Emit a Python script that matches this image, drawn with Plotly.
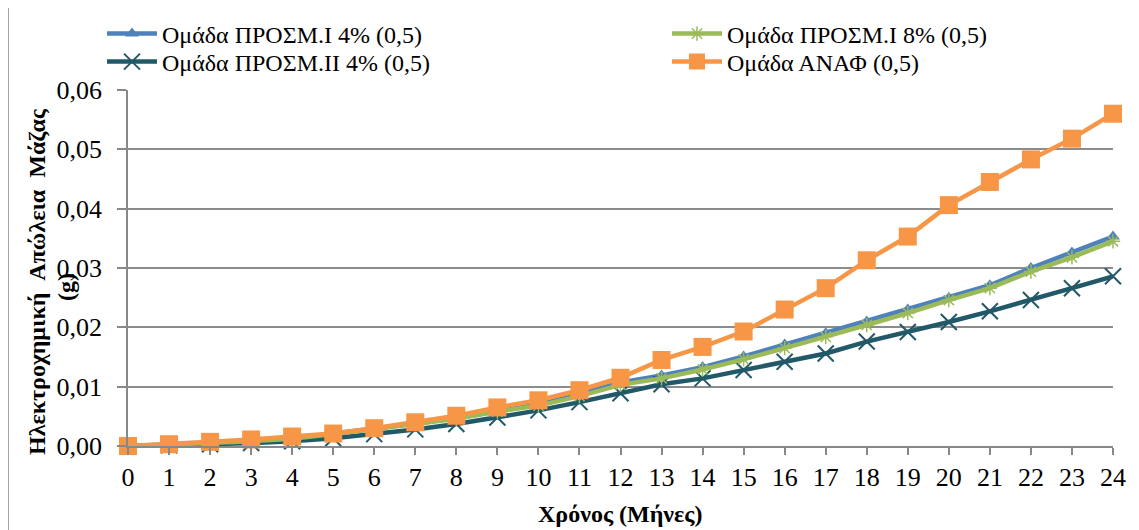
import plotly.graph_objects as go

months = list(range(25))
tick_labels = [str(m) for m in months]

names = ["Ομάδα ΠΡΟΣΜ.Ι 4% (0,5)", "Ομάδα ΠΡΟΣΜ.Ι 8% (0,5)",
         "Ομάδα ΠΡΟΣΜ.ΙΙ 4% (0,5)", "Ομάδα ΑΝΑΦ (0,5)"]

prosm1_4 = [0, 0.0002, 0.0005, 0.0008, 0.0012, 0.0021, 0.0029, 0.0038, 0.0047, 0.0059,
            0.0070, 0.0087, 0.0107, 0.0119, 0.0133, 0.0151, 0.0171, 0.0190, 0.0210,
            0.0230, 0.0250, 0.0271, 0.0300, 0.0326, 0.0353]
prosm1_8 = [0, 0.0002, 0.0005, 0.0008, 0.0012, 0.0020, 0.0028, 0.0037, 0.0046, 0.0058,
            0.0068, 0.0084, 0.0103, 0.0114, 0.0129, 0.0146, 0.0165, 0.0184, 0.0204,
            0.0224, 0.0246, 0.0266, 0.0294, 0.0318, 0.0345]
prosm2_4 = [0, 0.0001, 0.0003, 0.0005, 0.0008, 0.0013, 0.0020, 0.0028, 0.0037, 0.0048,
            0.0060, 0.0074, 0.0089, 0.0104, 0.0114, 0.0128, 0.0142, 0.0156, 0.0176,
            0.0192, 0.0209, 0.0227, 0.0246, 0.0266, 0.0286]
anaf = [0, 0.0003, 0.0007, 0.0011, 0.0016, 0.0021, 0.0030, 0.0040, 0.0051, 0.0065,
        0.0077, 0.0094, 0.0115, 0.0145, 0.0167, 0.0193, 0.0230, 0.0266, 0.0313,
        0.0353, 0.0406, 0.0445, 0.0483, 0.0518, 0.0560]

FONT = "Liberation Serif, Times New Roman, serif"

# page body has an 8px margin; figure is placed at (8, 8) in the window
OFF = 8
W, H = 1139 - OFF, 530 - OFF
L, T = 128 - OFF, 90 - OFF
R = 1139 - 1113
B = 530 - 446
pw, ph = W - L - R, H - T - B


def px_x(p):
    return (p - OFF - L) / pw


def px_y(p):
    return (H - B - (p - OFF)) / ph


fig = go.Figure()

fig.add_trace(go.Scatter(x=months, y=prosm1_4, name=names[0], mode="lines+markers",
                         line=dict(color="#4F81BD", width=4.5),
                         marker=dict(symbol="triangle-up", size=12, color="#4F81BD"),
                         cliponaxis=False, legend="legend", showlegend=True))
fig.add_trace(go.Scatter(x=months, y=prosm2_4, name=names[2], mode="lines+markers",
                         line=dict(color="#215968", width=4.5),
                         marker=dict(symbol="x-thin-open", size=16,
                                     line=dict(color="#215968", width=2)),
                         cliponaxis=False, legend="legend3", showlegend=True))
fig.add_trace(go.Scatter(x=months, y=prosm1_8, name=names[1], mode="lines+markers",
                         line=dict(color="#9BBB59", width=4.5),
                         marker=dict(symbol="asterisk-open", size=12,
                                     line=dict(color="#9BBB59", width=1.5)),
                         cliponaxis=False, legend="legend2", showlegend=True))
fig.add_trace(go.Scatter(x=months, y=anaf, name=names[3], mode="lines+markers",
                         line=dict(color="#F79646", width=4.5),
                         marker=dict(symbol="square", size=18, color="#F79646"),
                         cliponaxis=False, legend="legend4", showlegend=True))

legend_common = dict(orientation="v", font=dict(family=FONT, size=24, color="#000"),
                     bgcolor="rgba(0,0,0,0)", itemwidth=50, tracegroupgap=0,
                     xanchor="left", yanchor="middle", visible=True)

fig.update_layout(
    width=W, height=H,
    margin=dict(l=L, r=R, t=T, b=B, autoexpand=False),
    showlegend=True,
    paper_bgcolor="white", plot_bgcolor="white",
    separators=",.",
    font=dict(family=FONT, size=24, color="#000"),
    legend=dict(x=px_x(102), y=px_y(34), **legend_common),
    legend3=dict(x=px_x(102), y=px_y(62), **legend_common),
    legend2=dict(x=px_x(667), y=px_y(34), **legend_common),
    legend4=dict(x=px_x(667), y=px_y(62), **legend_common),
    xaxis=dict(range=[0, 24], tickmode="array", tickvals=months, ticktext=tick_labels,
               showgrid=False, showline=True, linecolor="#888", linewidth=1.5,
               ticks="outside", ticklen=7, tickcolor="#888", tickwidth=1.5,
               tickfont=dict(family=FONT, size=26, color="#000"),
               zeroline=False),
    yaxis=dict(range=[0, 0.06], tickvals=[0, 0.01, 0.02, 0.03, 0.04, 0.05, 0.06],
               tickformat=".2f",
               showgrid=True, gridcolor="#8c8c8c", gridwidth=1.5,
               showline=True, linecolor="#888", linewidth=1.5,
               ticks="outside", ticklen=9, tickcolor="#888", tickwidth=1.5,
               ticklabelstandoff=10,
               tickfont=dict(family=FONT, size=26, color="#000"),
               zeroline=False),
    annotations=[
        dict(text="<b>Χρόνος (Μήνες)</b>", xref="paper", yref="paper",
             x=px_x(620), y=px_y(514), xanchor="center", yanchor="middle",
             showarrow=False, font=dict(family=FONT, size=24, color="#000")),
        dict(text="<b>Ηλεκτροχημική&nbsp;&nbsp;Απώλεια&nbsp;&nbsp;Μάζας</b>",
             xref="paper", yref="paper", textangle=-90,
             x=px_x(37), y=px_y(282), xanchor="center", yanchor="middle",
             showarrow=False, font=dict(family=FONT, size=24, color="#000")),
        dict(text="<b>(g)</b>", xref="paper", yref="paper", textangle=-90,
             x=px_x(66), y=px_y(287), xanchor="center", yanchor="middle",
             showarrow=False, font=dict(family=FONT, size=24, color="#000")),
    ],
    shapes=[dict(type="rect", xref="paper", yref="paper",
                 x0=px_x(8), y0=px_y(560), x1=px_x(1160), y1=px_y(7),
                 line=dict(color="#888", width=1.5), fillcolor="rgba(0,0,0,0)",
                 layer="below")],
)

fig.write_html("out.html")
